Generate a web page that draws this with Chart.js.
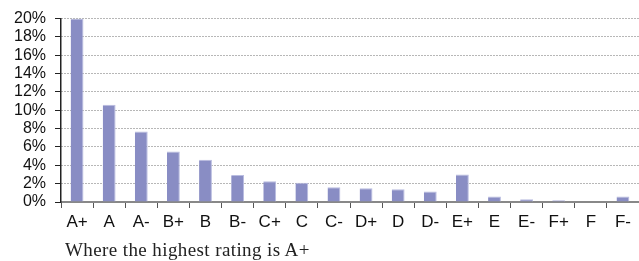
<!DOCTYPE html>
<html>
<head>
<meta charset="utf-8">
<script src="https://cdn.jsdelivr.net/npm/chart.js@4/dist/chart.umd.min.js"></script>
<style>
  html, body { margin: 0; padding: 0; background: #fff; }
  #wrap { position: relative; width: 639px; height: 261px; }
  #caption {
    position: absolute; left: 65px; top: 239px;
    font-family: "Liberation Serif", "DejaVu Serif", serif;
    font-size: 19px; letter-spacing: 0.4px; color: #222; white-space: nowrap;
  }
</style>
</head>
<body>
<div id="wrap">
  <canvas id="chart" width="639" height="261"></canvas>
  <div id="caption">Where the highest rating is A+</div>
</div>
<script>
const ratings = ['A+', 'A', 'A-', 'B+', 'B', 'B-', 'C+', 'C', 'C-', 'D+', 'D', 'D-', 'E+', 'E', 'E-', 'F+', 'F', 'F-'];
const shares = [20.0, 10.6, 7.7, 5.5, 4.6, 2.95, 2.25, 2.1, 1.6, 1.5, 1.4, 1.15, 3.0, 0.6, 0.3, 0.2, 0.05, 0.6];
const yTicks = [0, 2, 4, 6, 8, 10, 12, 14, 16, 18, 20];

const ctx = document.getElementById('chart').getContext('2d');

new Chart(ctx, {
  type: 'bar',
  data: {
    labels: ratings,
    datasets: [{
      data: shares,
      backgroundColor: '#898dc4',
      borderColor: '#b9bce0',
      borderWidth: { top: 1, right: 1, left: 0, bottom: 0 },
      barPercentage: 0.8,
      categoryPercentage: 0.5
    }]
  },
  options: {
    responsive: false,
    animation: false,
    layout: { padding: { top: 10, right: 0, bottom: 29, left: 0 } },
    plugins: {
      legend: { display: false },
      tooltip: { enabled: false }
    },
    scales: {
      x: {
        offset: true,
        grid: {
          offset: true,
          drawOnChartArea: false,
          drawTicks: true,
          tickLength: 6,
          color: '#555'
        },
        border: { color: '#888', width: 2 },
        ticks: {
          color: '#111',
          padding: 4,
          font: { family: 'Liberation Sans, Arial, sans-serif', size: 17 },
          maxRotation: 0,
          autoSkip: false
        },
        afterFit: (scale) => { scale.height = 30; }
      },
      y: {
        min: 0,
        max: 20,
        afterBuildTicks: (scale) => { scale.ticks = yTicks.map(v => ({ value: v })); },
        grid: {
          color: '#6e6e6e',
          lineWidth: 1,
          tickLength: 6,
          tickColor: '#222',
          drawTicks: true
        },
        border: { color: '#222', width: 1.5, dash: [1, 2] },
        ticks: {
          color: '#111',
          padding: 9,
          autoSkip: false,
          font: { family: 'Liberation Sans, Arial, sans-serif', size: 16 },
          callback: (v) => v + '%'
        },
        afterFit: (scale) => { scale.width = 61; }
      }
    }
  }
});
</script>
</body>
</html>
